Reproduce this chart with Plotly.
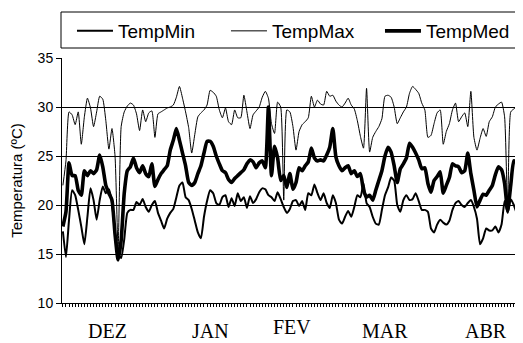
import plotly.graph_objects as go
import pandas as pd

# ---- data ----
start_date = "2000-12-01"
n_days = 151
dates = pd.date_range(start_date, periods=n_days, freq="D")

temp_min = [
    17.3, 14.7, 18.5, 21.5, 21.0, 19.5, 17.8, 16.0, 18.8, 21.7,
    20.5, 18.5, 20.5, 21.9, 21.2, 21.6, 20.2, 17.1, 15.0, 14.6,
    16.5, 19.2, 19.5, 19.5, 20.3, 20.0, 20.6, 19.8, 19.3, 20.0,
    20.4, 19.2, 18.4, 17.6, 18.6, 19.2, 19.6, 20.8, 22.0, 22.3,
    20.8, 20.5, 19.6, 18.4, 17.2, 16.6, 18.8, 20.4, 21.5, 21.2,
    20.2, 20.0, 20.8, 21.0, 19.8, 20.7, 19.9, 21.2, 20.4, 20.8,
    19.7, 20.9, 20.2, 20.6, 21.3, 21.7, 21.6, 21.0, 20.8, 20.4,
    21.3, 20.6, 19.8, 19.2, 19.6, 20.4, 20.5, 19.9, 20.4, 19.5,
    21.2, 21.0, 22.1, 21.2, 20.5, 21.2, 20.2, 19.7, 21.0, 20.2,
    18.5, 18.1, 18.8, 19.4, 18.8, 19.8, 21.0, 20.8, 22.2, 20.2,
    19.8, 18.8, 18.1, 18.0, 19.5, 21.0, 21.8, 22.8, 22.5, 20.0,
    19.3, 20.5, 21.0, 20.5, 20.6, 21.2, 20.4, 19.5, 19.5, 19.3,
    17.6, 17.2, 18.0, 18.5, 18.2, 18.0, 18.4, 19.5, 20.2, 20.4,
    20.0, 19.8, 20.2, 20.5, 19.8, 18.6, 16.0, 16.6, 17.6, 17.4,
    17.4, 17.8, 17.2, 18.0, 20.4, 19.2, 20.6, 20.0, 19.1, 18.2,
    18.0,
]

temp_max = [
    22.0, 24.5, 29.5, 29.2, 28.2, 29.5, 26.2, 29.0, 30.9, 29.9,
    28.0, 29.5, 31.1, 30.8, 28.6, 25.7, 27.8, 25.0, 15.5, 28.0,
    29.5, 30.1, 30.4, 30.2, 29.3, 27.6, 29.7, 28.5, 29.4, 29.6,
    26.9, 29.3, 29.5, 29.7, 29.9, 30.0, 30.2, 31.0, 32.1, 30.9,
    29.5, 27.9, 25.3, 27.2, 29.0, 29.4, 29.7, 30.2, 31.7, 31.5,
    31.1, 29.7, 28.9, 29.9, 28.5, 28.2, 29.7, 28.9, 28.9, 31.2,
    29.5, 27.8, 29.2, 29.6, 30.0, 31.0, 31.6, 30.9, 28.3, 27.3,
    30.5, 30.0, 20.5, 29.7, 29.5, 28.0, 25.6, 27.5, 28.2, 28.5,
    28.9, 31.1, 30.0, 30.7, 30.3, 30.2, 31.6, 31.1, 31.2, 30.6,
    30.2, 30.0, 30.4, 30.9, 30.2, 29.8, 28.6, 27.0, 25.8, 31.9,
    25.4, 26.9, 27.5, 28.0, 28.8, 31.1, 31.2, 31.0, 30.0, 28.3,
    28.9, 29.5, 30.0, 31.4, 32.1, 31.8, 31.4, 30.4, 29.7, 26.9,
    27.1, 28.3, 29.4, 29.7, 26.2, 27.5, 28.3, 29.7, 30.4, 28.5,
    29.0, 29.4, 28.0, 31.6, 26.9, 25.6, 26.8, 27.8, 27.0, 28.5,
    29.0, 30.0, 30.3, 30.5, 29.0, 19.5, 29.5, 29.8, 30.0, 30.2,
    30.4,
]

temp_med = [
    17.8, 19.3, 24.3, 23.0, 23.0, 21.5, 21.0, 23.5, 23.0, 23.5,
    23.2, 23.6, 25.1, 23.9, 22.0, 21.2, 20.5, 17.0, 14.4, 16.4,
    21.2, 23.5, 23.9, 24.8, 23.8, 23.3, 24.0, 23.2, 22.9, 24.2,
    21.9, 22.6, 23.2, 23.6, 24.0, 25.6, 26.6, 27.8, 26.6, 25.3,
    24.0, 22.3, 22.0, 22.3, 23.2, 24.0, 25.3, 26.5, 26.5, 26.0,
    25.0, 24.2, 23.5, 23.3, 22.6, 22.3, 22.7, 23.0, 23.3, 23.6,
    24.2, 24.6, 24.4, 23.8, 24.3, 24.5, 23.8, 30.0, 23.0, 26.0,
    24.8, 22.5, 23.0, 21.8, 23.2, 21.6, 22.3, 23.8, 23.5, 24.0,
    24.4, 25.8, 24.8, 24.5, 24.6, 24.5, 25.1, 25.9, 27.8, 24.9,
    24.0, 23.5, 23.8, 24.0, 23.2, 23.5, 22.9, 23.2, 21.5, 20.8,
    21.0, 20.5, 21.5, 22.5, 23.5, 25.0, 25.9, 25.4, 24.0, 22.3,
    23.7, 24.2, 24.8, 26.3, 25.9, 25.3, 24.6, 23.7, 23.8, 22.2,
    21.3, 22.5, 22.9, 23.4, 21.2, 22.0, 22.8, 24.2, 24.0, 23.9,
    23.3, 23.5, 25.3, 23.2, 21.5, 19.8, 20.5, 21.1, 21.0, 21.5,
    22.0, 23.1, 23.9, 23.6, 22.2, 19.4, 22.0, 24.5, 24.3, 23.8,
    24.2,
]

month_labels = ["DEZ", "JAN", "FEV", "MAR", "ABR"]
month_label_dates = ["2000-12-15 16:00", "2001-01-18", "2001-02-13 14:00",
                     "2001-03-16", "2001-04-18"]
month_label_shift = [-28, -28, -24, -28, -28]

series = [
    ("TempMin", temp_min, 2.0),
    ("TempMax", temp_max, 1.0),
    ("TempMed", temp_med, 3.6),
]

fig = go.Figure()
for name, vals, w in series:
    fig.add_trace(go.Scatter(
        x=dates, y=vals, mode="lines", name=name,
        line=dict(color="black", width=w, shape="spline", smoothing=0.5),
    ))

for lab, d, s in zip(month_labels, month_label_dates, month_label_shift):
    fig.add_annotation(
        x=d, xref="x", y=0, yref="paper", yanchor="middle", yshift=s,
        text=lab, showarrow=False,
        font=dict(family="Liberation Serif", size=20, color="black"),
    )

# legend frame (extends past the right edge, as in the reference)
fig.add_shape(type="rect", xref="paper", yref="paper",
              x0=-1 / 461, x1=1.2, y0=1 + 10 / 245, y1=1 + 46 / 245,
              line=dict(color="black", width=1), fillcolor="rgba(0,0,0,0)")

# page body has an 8px default margin; the figure is sized to fit inside it
fig.update_layout(
    width=515, height=335,
    margin=dict(l=54, r=0, t=50, b=40),
    paper_bgcolor="white", plot_bgcolor="white",
    font=dict(family="Liberation Sans", color="black"),
    showlegend=True,
    legend=dict(
        orientation="h", x=-0.0174, xanchor="left", y=1 + 46 / 245, yanchor="top",
        font=dict(family="Liberation Sans", size=19, color="black"),
        bgcolor="rgba(0,0,0,0)", borderwidth=0,
        entrywidth=85, entrywidthmode="pixels", itemwidth=36,
        indentation=18, tracegroupgap=0,
    ),
    xaxis=dict(
        type="date",
        range=["2000-11-30 17:00", "2001-04-30"],
        showgrid=False, zeroline=False,
        showline=True, linecolor="black", linewidth=1,
        ticks="outside", ticklen=3, tickcolor="black", tickwidth=1,
        dtick=86400000, tick0=start_date,
        showticklabels=False,
    ),
    yaxis=dict(
        range=[10, 35], dtick=5, tick0=10,
        showgrid=True, gridcolor="black", gridwidth=1,
        zeroline=False,
        showline=True, linecolor="black", linewidth=1,
        ticks="outside", ticklen=5, tickcolor="black",
        tickfont=dict(family="Liberation Sans", size=14, color="black"),
        title=dict(text="Temperatura (ºC)", standoff=16,
                   font=dict(family="Liberation Sans", size=15, color="black")),
    ),
)

fig.write_html("out.html")
